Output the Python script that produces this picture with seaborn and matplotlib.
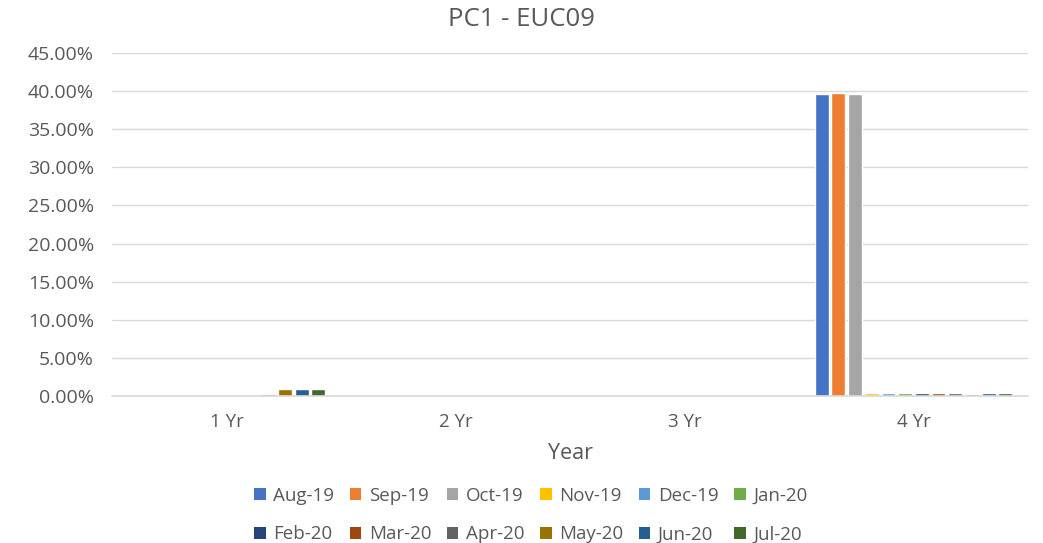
import matplotlib
matplotlib.use("Agg")
import matplotlib.pyplot as plt
import matplotlib.ticker as mticker
from matplotlib.patches import Patch
import seaborn as sns
import pandas as pd
import numpy as np

# ------------------------------------------------------------
# data (percent)
# ------------------------------------------------------------
years = ["1 Yr", "2 Yr", "3 Yr", "4 Yr"]
months = ["Aug-19", "Sep-19", "Oct-19", "Nov-19", "Dec-19", "Jan-20",
          "Feb-20", "Mar-20", "Apr-20", "May-20", "Jun-20", "Jul-20"]
yr1 = [0, 0, 0, 0, 0, 0, 0, 0, 0.25, 0.95, 0.95, 0.95]
yr2 = [0] * 12
yr3 = [0] * 12
yr4 = [39.6, 39.8, 39.6, 0.35, 0.35, 0.35, 0.35, 0.35, 0.35, 0.3, 0.35, 0.35]
colors = ["#4472C4", "#ED7D31", "#A5A5A5", "#FFC000", "#5B9BD5", "#70AD47",
          "#264478", "#9E480E", "#636363", "#997300", "#255E91", "#43682B"]

rows = []
for yr, vals in zip(years, [yr1, yr2, yr3, yr4]):
    for m, v in zip(months, vals):
        rows.append({"Year": yr, "Month": m, "Value": v})
df = pd.DataFrame(rows)

sns.set_theme(style="white")
plt.rcParams["font.family"] = ["Open Sans", "DejaVu Sans"]
TXT = "#595959"

fig = plt.figure(figsize=(10.43, 5.43), dpi=100)
ax = fig.add_axes([112 / 1043, 1 - 396 / 543, (1028 - 112) / 1043, (396 - 53) / 543])

sns.barplot(data=df, x="Year", y="Value", hue="Month", hue_order=months,
            palette=colors, width=0.875, gap=0.17, ax=ax, legend=False,
            saturation=1, errorbar=None)

ax.set_ylim(0, 45)
ax.set_xlim(-0.5, 3.5)
ax.yaxis.set_major_locator(mticker.MultipleLocator(5))
ax.yaxis.set_major_formatter(mticker.FuncFormatter(lambda v, _: f"{v:.2f}%"))
ax.grid(axis="y", color="#D9D9D9", linewidth=1)
ax.set_axisbelow(True)
for s in ["top", "right", "left"]:
    ax.spines[s].set_visible(False)
ax.spines["bottom"].set_color("#D9D9D9")
ax.spines["bottom"].set_linewidth(1.2)

ax.set_xticks(np.arange(-0.5, 4.0, 1.0), minor=True)
ax.tick_params(axis="x", which="minor", length=6, color="#D9D9D9", width=1.2)
ax.tick_params(axis="x", which="major", length=0, pad=12, labelsize=13.5, labelcolor=TXT)
ax.tick_params(axis="y", length=0, pad=13, labelsize=14, labelcolor=TXT)

ax.set_xlabel("Year", fontsize=15.5, color=TXT, labelpad=9)
ax.set_ylabel("")
fig.text(0.5, 1 - 20 / 543, "PC1 - EUC09", ha="center", va="center",
         fontsize=18.5, color=TXT)

# legend fills column by column, so interleave to get two rows of six
order = [i + r * 6 for i in range(6) for r in range(2)]
handles = [Patch(facecolor=colors[i], edgecolor="none") for i in order]
labels = [months[i] for i in order]
fig.legend(handles, labels, loc="center", bbox_to_anchor=(0.509, 1 - 515 / 543),
           ncol=6, frameon=False, fontsize=13.5, labelcolor=TXT,
           handlelength=0.6, handleheight=0.6, handletextpad=0.4,
           columnspacing=0.85, labelspacing=1.1)

fig.savefig("out.png", dpi=100)
